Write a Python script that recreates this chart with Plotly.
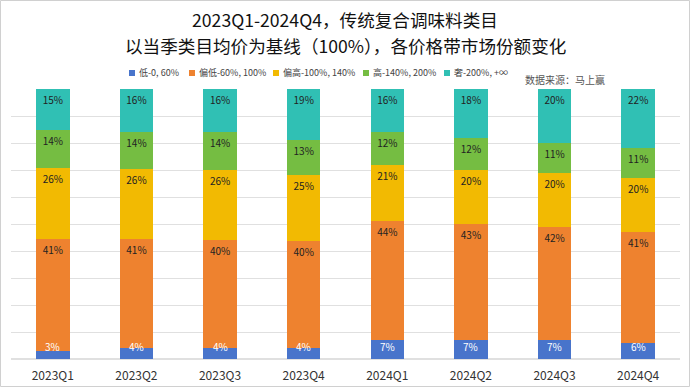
import plotly.graph_objects as go

quarters = ["2023Q1", "2023Q2", "2023Q3", "2023Q4", "2024Q1", "2024Q2", "2024Q3", "2024Q4"]
series_names = ["低-0, 60%", "偏低-60%, 100%", "偏高-100%, 140%", "高-140%, 200%", "奢-200%, +∞"]
low = [3, 4, 4, 4, 7, 7, 7, 6]
mid_low = [41, 41, 40, 40, 44, 43, 42, 41]
mid_high = [26, 26, 26, 25, 21, 20, 20, 20]
high = [14, 14, 14, 13, 12, 12, 11, 11]
luxury = [15, 16, 16, 19, 16, 18, 20, 22]
colors = ["#4874CB", "#EE822F", "#F2BA02", "#75BD42", "#30C0B4"]
title_line1 = "2023Q1-2024Q4，传统复合调味料类目"
title_line2 = "以当季类目均价为基线（100%），各价格带市场份额变化"

W, H = 690, 387
ml, mr, mt, mb = 11, 10, 89, 28
pw = W - ml - mr
ph = H - mt - mb

font = "Noto Sans CJK SC"
# legend key positions (px) as in the reference
legend_marker_px = [132, 192, 276, 366, 447]
legend_y_px = 73


def px_x(p):
    return (p - ml) / pw


def px_y(p):
    return (H - mb - p) / ph


fig = go.Figure()
all_series = [low, mid_low, mid_high, high, luxury]
for i, (name, vals, c) in enumerate(zip(series_names, all_series, colors)):
    is_low = i == 0
    fig.add_trace(go.Bar(
        x=quarters, y=vals, name=name, showlegend=False,
        marker=dict(color=c, line=dict(width=0)),
        text=None if is_low else [f"{v}%" for v in vals],
        textposition="inside", insidetextanchor="end",
        textfont=dict(color="#222222", size=10, family=font),
        textangle=0,
    ))

annotations = [
    dict(text=title_line2, xref="paper", yref="paper", x=px_x(W / 2), xanchor="center",
         y=px_y(45.5), yanchor="middle", showarrow=False,
         font=dict(size=17.6, color="#111111", family=font)),
    dict(text="数据来源：马上赢", xref="paper", yref="paper",
         x=px_x(607), xanchor="right", y=px_y(79), yanchor="middle",
         showarrow=False, font=dict(size=10, color="#555555", family=font)),
]
for q, v in zip(quarters, low):
    annotations.append(dict(text=f"{v}%", x=q, y=0, xref="x", yref="y", yanchor="bottom",
                            yshift=3, showarrow=False,
                            font=dict(size=10, color="white", family=font)))

shapes = [dict(type="rect", xref="paper", yref="paper",
               x0=px_x(0.5), x1=px_x(W - 0.5), y0=px_y(H - 0.5), y1=px_y(0.5),
               line=dict(color="#D0D0D0", width=1), layer="below")]

# legend: colour keys + labels
for name, c, mx in zip(series_names, colors, legend_marker_px):
    shapes.append(dict(type="rect", xref="paper", yref="paper",
                       x0=px_x(mx - 3), x1=px_x(mx + 3),
                       y0=px_y(legend_y_px + 3), y1=px_y(legend_y_px - 3),
                       line=dict(width=0), fillcolor=c))
    annotations.append(dict(text=name, xref="paper", yref="paper",
                            x=px_x(mx + 5), xanchor="left", y=px_y(legend_y_px), yanchor="middle",
                            showarrow=False, font=dict(size=9, color="#444444", family=font)))

fig.update_layout(
    width=W, height=H,
    barmode="stack", barnorm="percent", bargap=0.6,
    margin=dict(l=ml, r=mr, t=mt, b=mb),
    paper_bgcolor="white", plot_bgcolor="white",
    font=dict(family=font, color="#333333"),
    showlegend=False,
    title=dict(text=title_line1, x=0.5, xanchor="center", y=1 - 20.5 / H, yanchor="middle",
               font=dict(size=17.6, color="#111111", family=font)),
    xaxis=dict(showgrid=False, showline=False, ticks="", ticklabelstandoff=8, automargin=False,
               tickfont=dict(size=12, color="#333333", family=font)),
    yaxis=dict(range=[0, 100], dtick=10, showgrid=True, gridcolor="#E0E0E0", gridwidth=1,
               automargin=False,
               showticklabels=False, zeroline=True, zerolinecolor="#E0E0E0", showline=False),
    annotations=annotations,
    shapes=shapes,
)
fig.write_html("out.html", post_script="document.body.style.margin='0px';",
               config={"displayModeBar": False})
